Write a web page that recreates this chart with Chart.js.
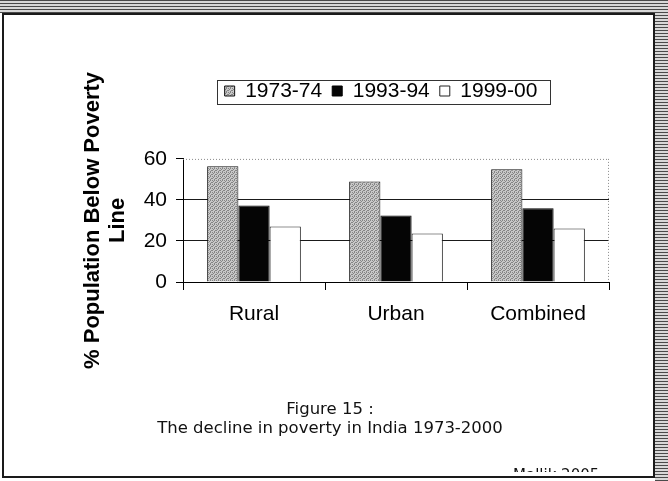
<!DOCTYPE html>
<html>
<head>
<meta charset="utf-8">
<script src="https://cdn.jsdelivr.net/npm/chart.js@4.4.0/dist/chart.umd.min.js"></script>
<style>
  html, body { margin: 0; padding: 0; background: #fff; }
  #page { position: relative; width: 668px; height: 481px; overflow: hidden; background: #fff; }
  .hatch { position: absolute; background: repeating-linear-gradient(to bottom, #4a4a4a 0px, #4a4a4a 1px, #d8d8d8 1px, #d8d8d8 3px); }
  #frame { position: absolute; left: 2px; top: 13px; width: 653px; height: 465px; box-sizing: border-box; border: 2px solid #1a1a1a; }
  #chart { position: absolute; left: 0; top: 0; }
  .cap { position: absolute; left: 0; width: 660px; text-align: center; font-family: "DejaVu Sans", sans-serif; font-size: 16.5px; color: #111; }
  #credit { position: absolute; left: 513px; top: 466px; height: 6px; overflow: hidden; font-family: "DejaVu Sans", sans-serif; font-size: 15px; line-height: 18px; color: #111; }
</style>
</head>
<body>
<div id="page">
  <div class="hatch" style="left:0;top:0;width:668px;height:13px;"></div>
  <div class="hatch" style="left:655px;top:0;width:13px;height:481px;"></div>
  <div id="frame"></div>
  <canvas id="chart" width="668" height="481"></canvas>
  <div class="cap" style="top:399px;">Figure 15 :</div>
  <div class="cap" style="top:418px;">The decline in poverty in India 1973-2000</div>
  <div id="credit">Mallik 2005</div>
</div>
<script>
/* data */
var categories = ['Rural', 'Urban', 'Combined'];
var seriesNames = ['1973-74', '1993-94', '1999-00'];
var values1973 = [56.4, 49.0, 54.9];
var values1993 = [37.3, 32.4, 36.0];
var values1999 = [27.1, 23.6, 26.1];
var yTicks = [0, 20, 40, 60];
var yTitle = ['% Population Below Poverty', 'Line'];

var FONT = "'Liberation Sans', Arial, sans-serif";

// stippled grey like the scan
function makeGrey() {
	var c = document.createElement('canvas');
	c.width = 4; c.height = 4;
	var g = c.getContext('2d');
	g.fillStyle = '#c8c8c8';
	g.fillRect(0, 0, 4, 4);
	g.fillStyle = '#858585';
	[[0, 0], [2, 0], [1, 1], [3, 2], [0, 2], [2, 3]].forEach(function (p) {
		g.fillRect(p[0], p[1], 1, 1);
	});
	return g.createPattern(c, 'repeat');
}
var ctx = document.getElementById('chart').getContext('2d');
var greyFill = makeGrey();

var legendShift = -15;

var shiftLegend = {
	id: 'shiftLegend',
	afterLayout: function (chart) {
		chart.legend.left += legendShift;
		chart.legend.right += legendShift;
	}
};

var plotEdges = {
	id: 'plotEdges',
	beforeDatasetsDraw: function (chart) {
		var a = chart.chartArea, c = chart.ctx;
		c.save();
		c.strokeStyle = '#8a8a8a';
		c.lineWidth = 1;
		c.setLineDash([1, 2]);
		c.beginPath();
		c.moveTo(a.left, a.top + 0.5);
		c.lineTo(a.right, a.top + 0.5);
		c.moveTo(a.right - 0.5, a.top);
		c.lineTo(a.right - 0.5, a.bottom);
		c.stroke();
		c.restore();
	}
};

var legendBox = {
	id: 'legendBox',
	afterDraw: function (chart) {
		var h = chart.legend.legendHitBoxes;
		if (!h || !h.length) return;
		var last = h[h.length - 1];
		var x0 = h[0].left - 8, x1 = last.left + last.width + 12;
		var y0 = h[0].top - 1, y1 = h[0].top + h[0].height + 2;
		var c = chart.ctx;
		c.save();
		c.strokeStyle = '#333';
		c.lineWidth = 1;
		c.strokeRect(Math.round(x0) + 0.5, Math.round(y0) + 0.5, Math.round(x1 - x0), Math.round(y1 - y0));
		c.restore();
	}
};

new Chart(ctx, {
	type: 'bar',
	data: {
		labels: categories,
		datasets: [{
			label: seriesNames[0],
			data: values1973,
			backgroundColor: greyFill,
			borderColor: '#111',
			borderWidth: 1
		}, {
			label: seriesNames[1],
			data: values1993,
			backgroundColor: '#050505',
			borderColor: '#000',
			borderWidth: 1
		}, {
			label: seriesNames[2],
			data: values1999,
			backgroundColor: '#ffffff',
			borderColor: '#222',
			borderWidth: 1
		}]
	},
	options: {
		responsive: false,
		animation: false,
		categoryPercentage: 0.66,
		barPercentage: 1,
		layout: { padding: { top: 70.5, right: 59, bottom: 139, left: 0 } },
		plugins: {
			legend: {
				position: 'top',
				fullSize: false,
				align: 'center',
				labels: {
					boxWidth: 10,
					boxHeight: 10,
					padding: 10,
					color: '#000',
					font: { family: FONT, size: 21 }
				}
			},
			title: {
				display: true,
				text: '',
				weight: 500,
				font: { size: 12, lineHeight: 1.2 },
				padding: { top: 0, bottom: 33 }
			},
			tooltip: { enabled: false }
		},
		scales: {
			x: {
				grid: {
					offset: true,
					drawOnChartArea: false,
					drawTicks: true,
					tickLength: 8,
					tickColor: '#000'
				},
				border: { display: true, color: '#000', width: 1 },
				ticks: {
					color: '#000',
					padding: 12,
					font: { family: FONT, size: 21 }
				},
				afterFit: function (scale) { scale.height = 60; }
			},
			y: {
				min: 0,
				max: 60,
				afterBuildTicks: function (scale) {
					scale.ticks = yTicks.map(function (v) { return { value: v }; });
				},
				grid: {
					color: function (c) {
						return c.tick && c.tick.value === 60 ? 'rgba(0,0,0,0)' : '#1a1a1a';
					},
					tickColor: '#000',
					tickLength: 7,
					drawTicks: true
				},
				border: { display: true, color: '#000', width: 1 },
				ticks: {
					color: '#000',
					padding: 9,
					font: { family: FONT, size: 21 }
				},
				title: {
					display: true,
					text: yTitle,
					color: '#000',
					font: { family: FONT, size: 22, weight: 'bold', lineHeight: 1.12 },
					padding: { top: 81, bottom: 0 }
				},
				afterFit: function (scale) { scale.width = 183; }
			}
		}
	},
	plugins: [shiftLegend, plotEdges, legendBox]
});
</script>
</body>
</html>
